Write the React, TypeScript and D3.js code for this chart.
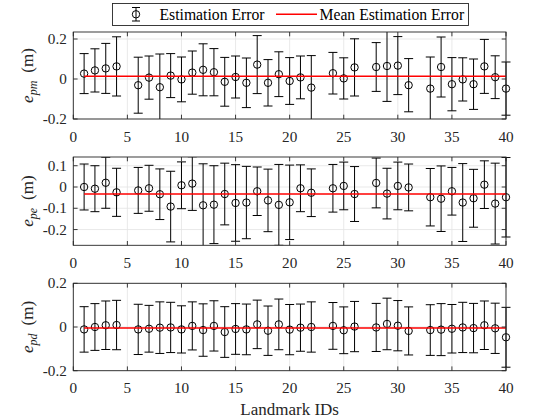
import React from "react";
import * as d3 from "d3";

const landmarkIds = [1, 2, 3, 4, 6, 7, 8, 9, 10, 11, 12, 13, 14, 15, 16, 17, 18, 19, 20, 21, 22, 24, 25, 26, 28, 29, 30, 31, 33, 34, 35, 36, 37, 38, 39, 40];

const errPm = [0.027, 0.043, 0.053, 0.063, -0.031, 0.007, -0.041, 0.017, -0.002, 0.032, 0.046, 0.034, -0.014, 0.010, -0.019, 0.072, -0.019, 0.024, -0.010, 0.008, -0.043, 0.029, 0.003, 0.058, 0.060, 0.065, 0.067, -0.031, -0.048, 0.060, -0.026, -0.002, -0.026, 0.063, 0.009, -0.048];
const sigPm = [0.100, 0.108, 0.125, 0.148, 0.140, 0.108, 0.166, 0.110, 0.112, 0.108, 0.130, 0.118, 0.122, 0.105, 0.124, 0.145, 0.116, 0.112, 0.117, 0.107, 0.160, 0.104, 0.103, 0.143, 0.122, 0.177, 0.145, 0.133, 0.158, 0.150, 0.133, 0.108, 0.126, 0.135, 0.107, 0.133];

const errPe = [0.000, -0.008, 0.020, -0.025, -0.016, -0.006, -0.034, -0.092, 0.008, 0.016, -0.086, -0.083, -0.033, -0.075, -0.073, -0.020, -0.063, -0.084, -0.072, -0.006, -0.027, -0.006, 0.005, -0.033, 0.019, -0.031, 0.005, -0.002, -0.048, -0.055, -0.020, -0.073, -0.053, 0.011, -0.078, -0.048];
const sigPe = [0.108, 0.108, 0.120, 0.113, 0.108, 0.108, 0.119, 0.166, 0.110, 0.126, 0.195, 0.183, 0.145, 0.180, 0.170, 0.114, 0.147, 0.190, 0.175, 0.110, 0.112, 0.112, 0.112, 0.129, 0.117, 0.119, 0.112, 0.110, 0.135, 0.154, 0.112, 0.183, 0.136, 0.112, 0.190, 0.187];

const errPd = [-0.011, 0.000, 0.008, 0.009, -0.011, -0.008, -0.003, -0.002, -0.011, 0.005, -0.014, 0.005, -0.023, -0.009, -0.011, 0.012, -0.017, 0.012, -0.012, -0.003, 0.000, 0.005, -0.015, 0.002, -0.002, 0.014, 0.006, -0.018, -0.014, -0.012, -0.008, -0.002, -0.005, 0.008, -0.006, -0.047];
const sigPd = [0.104, 0.107, 0.111, 0.113, 0.115, 0.107, 0.118, 0.115, 0.108, 0.110, 0.120, 0.115, 0.116, 0.116, 0.116, 0.111, 0.113, 0.116, 0.115, 0.108, 0.115, 0.107, 0.107, 0.115, 0.110, 0.118, 0.115, 0.110, 0.116, 0.119, 0.111, 0.115, 0.113, 0.111, 0.115, 0.137];

const xTicks = [0, 5, 10, 15, 20, 25, 30, 35, 40];
const yTicksPm = [-0.2, 0, 0.2];
const yTickLabelsPm = ["-0.2", "0", "0.2"];
const yTicksPe = [-0.2, -0.1, 0, 0.1];
const yTickLabelsPe = ["-0.2", "-0.1", "0", "0.1"];
const yTicksPd = [-0.2, 0, 0.2];
const yTickLabelsPd = ["-0.2", "0", "0.2"];
const subscripts = ["pm", "pe", "pd"];
const legendLabels = ["Estimation Error", "Mean Estimation Error"];
const xAxisLabel = "Landmark IDs";

const FONT = "Liberation Serif";
const AX = "#262626";
const GRID = "#e3e3e3";

const W = 560;
const H = 420;
const LEFT = 73.3;
const RIGHT = 506;

const panels = [
  { top: 32, bottom: 119, domain: [-0.2, 0.235], ticks: yTicksPm, tickLabels: yTickLabelsPm, err: errPm, sig: sigPm, sub: subscripts[0] },
  { top: 157, bottom: 245.3, domain: [-0.274, 0.141], ticks: yTicksPe, tickLabels: yTickLabelsPe, err: errPe, sig: sigPe, sub: subscripts[1] },
  { top: 283.3, bottom: 370.7, domain: [-0.2, 0.2], ticks: yTicksPd, tickLabels: yTickLabelsPd, err: errPd, sig: sigPd, sub: subscripts[2] },
];

const x = d3.scaleLinear().domain([0, 40]).range([LEFT, RIGHT]);

function Panel({ p, idx }: { p: any; idx: number }) {
  const y = d3.scaleLinear().domain(p.domain).range([p.bottom, p.top]);
  const mean = d3.mean(p.err as number[]) as number;
  const clipId = `clip-${idx}`;
  const tickLen = 4.3;
  const cap = 4.5;
  const r = 3.7;
  const cy = (p.top + p.bottom) / 2;
  const meanLine = d3.line<number>().x((d) => x(d)).y(() => y(mean));
  return (
    <g>
      <defs>
        <clipPath id={clipId}>
          <rect x={LEFT - 12} y={p.top} width={RIGHT - LEFT + 24} height={p.bottom - p.top} />
        </clipPath>
      </defs>
      <rect x={LEFT} y={p.top} width={RIGHT - LEFT} height={p.bottom - p.top} fill="#fff" />
      {xTicks.map((t) => (
        <line key={"gx" + t} x1={x(t)} x2={x(t)} y1={p.top} y2={p.bottom} stroke={GRID} strokeWidth={0.8} />
      ))}
      {p.ticks.map((t: number) => (
        <line key={"gy" + t} x1={LEFT} x2={RIGHT} y1={y(t)} y2={y(t)} stroke={GRID} strokeWidth={0.8} />
      ))}
      <g clipPath={`url(#${clipId})`} stroke="#000" strokeWidth={1} fill="none">
        {landmarkIds.map((id, i) => {
          const cx = x(id);
          const v = p.err[i];
          const s = p.sig[i];
          const yt = y(v + s);
          const yb = y(v - s);
          return (
            <g key={id}>
              <line x1={cx} x2={cx} y1={yt} y2={yb} />
              <line x1={cx - cap} x2={cx + cap} y1={yt} y2={yt} />
              <line x1={cx - cap} x2={cx + cap} y1={yb} y2={yb} />
              <circle cx={cx} cy={y(v)} r={r} />
            </g>
          );
        })}
        <path d={meanLine([landmarkIds[0], landmarkIds[landmarkIds.length - 1]]) as string} stroke="#ff0000" strokeWidth={1.5} />
      </g>
      <rect x={LEFT} y={p.top} width={RIGHT - LEFT} height={p.bottom - p.top} fill="none" stroke={AX} strokeWidth={0.9} />
      {xTicks.map((t) => (
        <g key={"tx" + t} stroke={AX} strokeWidth={0.9}>
          <line x1={x(t)} x2={x(t)} y1={p.bottom} y2={p.bottom - tickLen} />
          <line x1={x(t)} x2={x(t)} y1={p.top} y2={p.top + tickLen} />
        </g>
      ))}
      {p.ticks.map((t: number) => (
        <g key={"ty" + t} stroke={AX} strokeWidth={0.9}>
          <line x1={LEFT} x2={LEFT + tickLen} y1={y(t)} y2={y(t)} />
          <line x1={RIGHT} x2={RIGHT - tickLen} y1={y(t)} y2={y(t)} />
        </g>
      ))}
      {xTicks.map((t) => (
        <text key={"lx" + t} className="serif" x={x(t)} y={p.bottom + 22.7} textAnchor="middle" fontFamily={FONT} fontSize={15.2} fill={AX}>
          {String(t)}
        </text>
      ))}
      {p.ticks.map((t: number, i: number) => (
        <text key={"ly" + t} className="serif" x={LEFT - 6.5} y={y(t) + 5} textAnchor="end" fontFamily={FONT} fontSize={15.2} fill={AX}>
          {p.tickLabels[i]}
        </text>
      ))}
      <text className="serif" transform="rotate(-90)" x={-cy} y={33} textAnchor="middle" fontFamily={FONT} fontSize={17} fill={AX}>
        <tspan fontStyle="italic">e</tspan>
        <tspan fontStyle="italic" fontSize={12} dy={3.5}>{p.sub}</tspan>
        <tspan dy={-3.5} dx={8}>(m)</tspan>
      </text>
    </g>
  );
}

export default function App() {
  return (
    <svg width={W} height={H} style={{ position: "absolute", left: 0, top: 0, background: "#fff" }}>
      <style>{`.serif, .serif tspan { font-family: "Liberation Serif"; }`}</style>
      <rect x={0} y={0} width={W} height={H} fill="#fff" />
      {panels.map((p, i) => (
        <Panel key={i} p={p} idx={i} />
      ))}
      <text className="serif" x={(LEFT + RIGHT) / 2} y={415} textAnchor="middle" fontFamily={FONT} fontSize={17} fill={AX}>
        {xAxisLabel}
      </text>
      <g>
        <rect x={112.5} y={3.5} width={356} height={22} fill="#fff" stroke={AX} strokeWidth={0.9} />
        <g stroke="#000" strokeWidth={1} fill="none">
          <line x1={136} x2={136} y1={7.5} y2={21} />
          <line x1={132} x2={140} y1={7.5} y2={7.5} />
          <line x1={132} x2={140} y1={21} y2={21} />
          <circle cx={136} cy={14.3} r={3.7} />
        </g>
        <line x1={276} x2={317} y1={14.3} y2={14.3} stroke="#ff0000" strokeWidth={1.5} />
        <text className="serif" x={159.5} y={20} fontFamily={FONT} fontSize={15.7} fill="#000">{legendLabels[0]}</text>
        <text className="serif" x={319.5} y={20} fontFamily={FONT} fontSize={15.7} fill="#000">{legendLabels[1]}</text>
      </g>
    </svg>
  );
}
